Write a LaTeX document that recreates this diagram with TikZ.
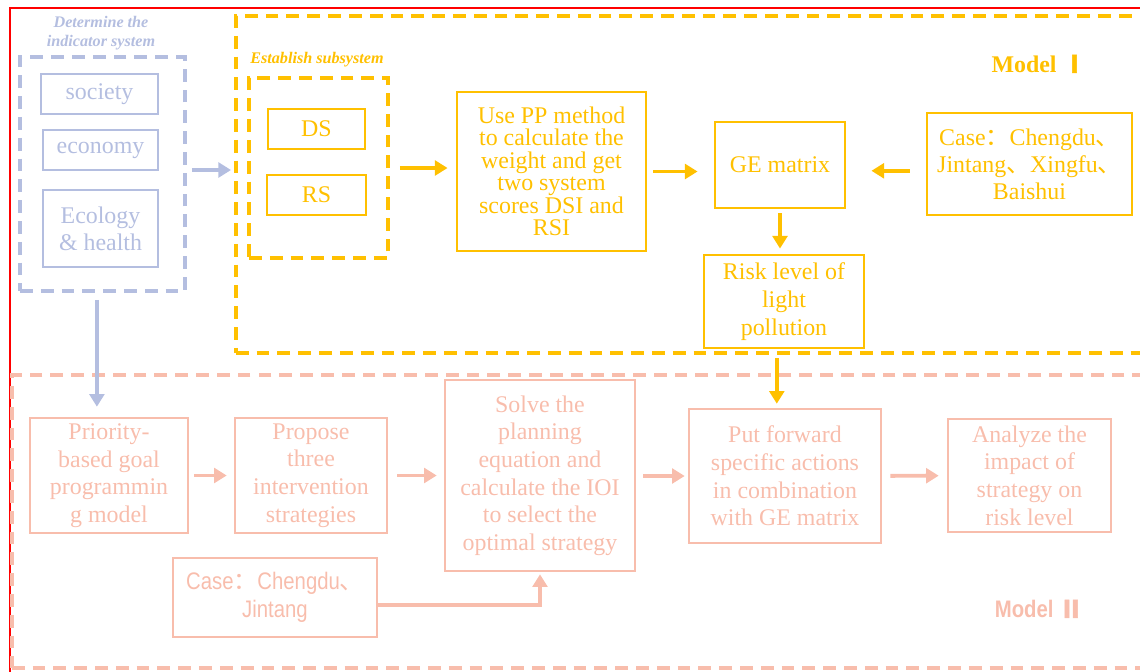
\documentclass[tikz,border=0pt]{standalone}
\usepackage{fontspec}
\usepackage{tikz}
\setmainfont{Liberation Serif}
\newfontfamily\cjk{Noto Sans CJK SC}
\newfontfamily\cjkbold{Noto Sans CJK SC}[FakeBold=2]
\newfontfamily\narrow{Liberation Sans}[FakeStretch=0.85]
\definecolor{lavender}{RGB}{180,190,224}
\definecolor{gold}{RGB}{255,192,0}
\definecolor{salmon}{RGB}{248,189,172}
\usetikzlibrary{arrows.meta}
\tikzset{%
  box/.style={draw, rectangle, align=center, inner sep=2pt,
    font=\fontsize{17}{19.6}\selectfont},% framed step
  bluebox/.style={box, draw=lavender, text=lavender, line width=1.4pt},
  goldbox/.style={box, draw=gold, text=gold, line width=2pt},
  pinkbox/.style={box, draw=salmon, text=salmon, line width=1.8pt},
  group/.style={draw, rectangle, line width=2.6pt,
    dash pattern=on 0.32cm off 0.2cm},% dashed frame round a part
  flow/.style={line width=2.8pt, -{Triangle[length=9pt,width=10.5pt]}},
  caption/.style={font=\fontsize{11.5}{13.5}\selectfont\bfseries\itshape, align=center}
}

\begin{document}
\begin{tikzpicture}[x=0.025cm, y=-0.025cm]
\path[use as bounding box, clip] (0,0) rectangle (1140,672);
\draw[red, line width=1.2pt] (10,8) rectangle (1160,690);

% indicator system
\node[caption, text=lavender] at (101,33) {Determine the\\indicator system};
\node[group, draw=lavender, minimum width=4.125cm, minimum height=5.85cm] (indic) at (102.5,174) {};
\node[bluebox, minimum width=2.925cm, minimum height=1cm] (society) at (99.5,94) {society};
\node[bluebox, minimum width=2.875cm, minimum height=1cm] (economy) at (100.5,150) {economy};
\node[bluebox, minimum width=2.875cm, minimum height=1.925cm, font=\fontsize{17}{19.2}\selectfont] (ecology) at (100.5,228.5) {Ecology\\\& health};

% model one
\node[group, draw=gold, minimum width=23.1cm, minimum height=8.425cm] (modelone) at (698,184.5) {};
\node[text=gold, font=\fontsize{17}{19}\selectfont\bfseries] at (1039,64) {Model {\cjkbold Ⅰ}};
\node[caption, text=gold] at (317,60) {Establish subsystem};
\node[group, draw=gold, minimum width=3.475cm, minimum height=4.5cm] (subsys) at (318.5,168) {};
\node[goldbox, minimum width=2.425cm, minimum height=1cm] (ds) at (316.5,129) {DS};
\node[goldbox, minimum width=2.475cm, minimum height=1cm] (rs) at (316.5,195) {RS};
\node[goldbox, minimum width=4.725cm, minimum height=3.975cm, font=\fontsize{17}{16}\selectfont] (pp) at (551.5,171.5)
  {Use PP method\\to calculate the\\weight and get\\two system\\scores DSI and\\RSI};
\node[goldbox, minimum width=3.25cm, minimum height=2.15cm] (ge) at (780,165) {GE matrix};
\node[goldbox, minimum width=5.125cm, minimum height=2.55cm, font=\fontsize{17}{19.2}\selectfont] (casetop) at (1029.5,164)
  {Case{\cjk ：}Chengdu{\cjk 、}\\Jintang{\cjk 、}Xingfu{\cjk 、}\\Baishui};
\node[goldbox, minimum width=4cm, minimum height=2.325cm, font=\fontsize{17}{19.9}\selectfont] (risk) at (784,301.5)
  {Risk level of\\light\\pollution};

% model two
\node[group, draw=salmon, minimum width=28.7cm, minimum height=7.325cm] (modeltwo) at (586,521.5) {};
\node[text=salmon, font=\narrow\fontsize{17}{19}\selectfont\bfseries] at (1039,609) {Model {\cjkbold Ⅱ}};
\node[pinkbox, minimum width=3.95cm, minimum height=2.875cm] (priority) at (109,475.5)
  {Priority-\\based goal\\programmin\\g model};
\node[pinkbox, minimum width=3.8cm, minimum height=2.875cm] (propose) at (311,475.5)
  {Propose\\three\\intervention\\strategies};
\node[pinkbox, minimum width=4.75cm, minimum height=4.775cm] (solve) at (540,475.5)
  {Solve the\\planning\\equation and\\calculate the IOI\\to select the\\optimal strategy};
\node[pinkbox, minimum width=4.8cm, minimum height=3.35cm] (putfwd) at (785,476)
  {Put forward\\specific actions\\in combination\\with GE matrix};
\node[pinkbox, minimum width=4.075cm, minimum height=2.825cm] (analyze) at (1029.5,475.5)
  {Analyze the\\impact of\\strategy on\\risk level};
\node[pinkbox, minimum width=5.1cm, minimum height=1.975cm, font=\narrow\fontsize{17}{19.9}\selectfont] (casebot) at (275,597.5)
  {Case{\cjk ：}Chengdu{\cjk 、}\\Jintang};

% connectors
\draw[flow, lavender, shorten <=0.125cm, shorten >=0.075cm] ([yshift=0.1cm]indic.east) -- ([yshift=0.1cm]indic.east -| modelone.west);
\draw[flow, lavender, shorten <=0.175cm, shorten >=0.25cm] ([xshift=-0.14cm]indic.south) -- ([xshift=-0.14cm]indic.south |- priority.north);
\draw[flow, gold, shorten <=0.25cm, shorten >=0.2cm] (subsys.east) -- (subsys.east -| pp.west);
\draw[flow, gold, shorten <=0.15cm, shorten >=0.4cm] (pp.east) -- (pp.east -| ge.west);
\draw[flow, gold, shorten <=0.4cm, shorten >=0.625cm] ([yshift=-0.17cm]casetop.west) -- ([yshift=-0.17cm]casetop.west -| ge.east);
\draw[flow, gold, shorten <=0.1cm, shorten >=0.125cm] (ge.south) -- (ge.south |- risk.north);
\draw[flow, gold, shorten <=0.225cm, shorten >=0.1cm] ([xshift=-0.18cm]risk.south) -- ([xshift=-0.18cm]risk.south |- putfwd.north);
\draw[flow, salmon, shorten <=0.125cm, shorten >=0.175cm] (priority) -- (propose);
\draw[flow, salmon, shorten <=0.225cm, shorten >=0.175cm] (propose) -- (solve);
\draw[flow, salmon, shorten <=0.175cm, shorten >=0.075cm] (solve.east |- putfwd) -- (putfwd);
\draw[flow, salmon, shorten <=0.2cm, shorten >=0.2cm] (putfwd) -- (analyze);
\draw[flow, salmon, shorten >=0.05cm] ([yshift=-0.19cm]casebot.east) -| (solve.south);
\end{tikzpicture}
\end{document}
